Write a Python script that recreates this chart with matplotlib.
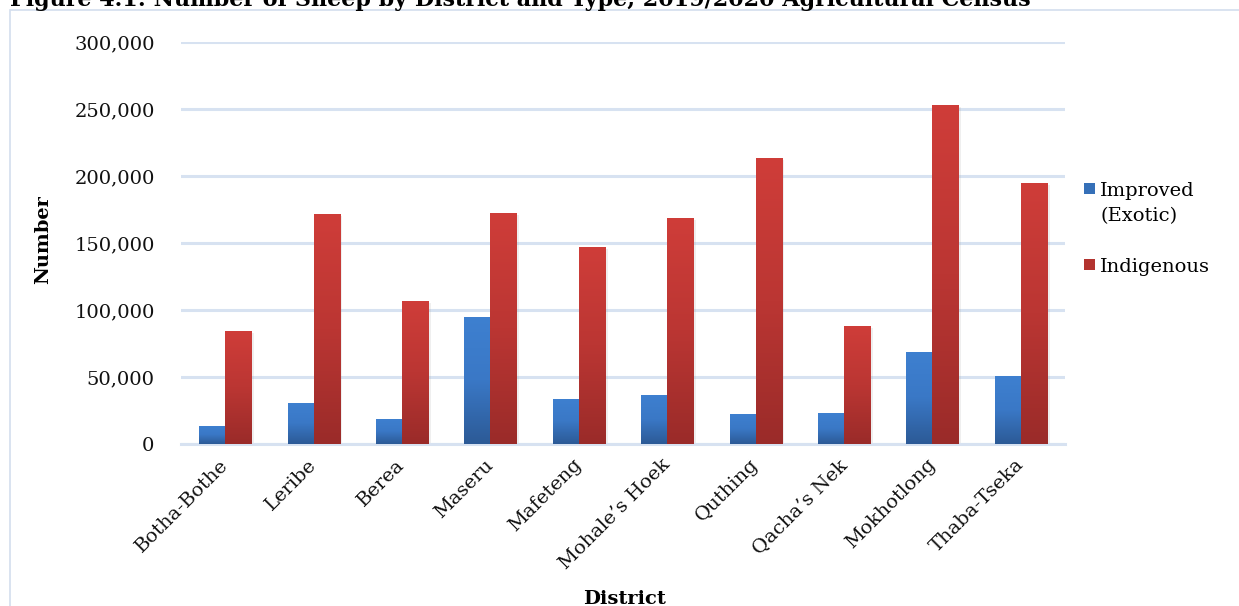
import numpy as np
import matplotlib
matplotlib.use("Agg")
import matplotlib.pyplot as plt
from matplotlib.colors import LinearSegmentedColormap
from matplotlib.patches import Rectangle
from matplotlib.ticker import FuncFormatter
import matplotlib.patheffects as pe

# Sheep counts by district and type
districts = ["Botha-Bothe", "Leribe", "Berea", "Maseru", "Mafeteng",
             "Mohale\u2019s Hoek", "Quthing", "Qacha\u2019s Nek", "Mokhotlong", "Thaba-Tseka"]
improved = [13500, 30600, 18700, 94800, 33600, 36600, 22400, 23100, 68700, 50700]
indigenous = [84300, 171600, 106700, 172400, 147000, 168700, 213400, 88000, 253000, 194800]
series_names = ["Improved\n(Exotic)", "Indigenous"]
y_ticks = [0, 50000, 100000, 150000, 200000, 250000, 300000]

SERIF = ["DejaVu Serif"]
plt.rcParams["font.family"] = SERIF

W, H = 1239, 606
fig = plt.figure(figsize=(W / 100, H / 100), dpi=100)

# outer frame of the figure box
fig.patches.append(Rectangle((10 / W, -0.1), 1.2, 1 - 10 / H + 0.1,
                             transform=fig.transFigure, fill=False,
                             edgecolor="#d3deee", linewidth=1.2))

ax = fig.add_axes([181 / W, 1 - 444 / H, 884 / W, 402 / H])

blue_cmap = LinearSegmentedColormap.from_list("blue", ["#2c5a96", "#3a78c6", "#3e80d0"])
red_cmap = LinearSegmentedColormap.from_list("red", ["#9a2b29", "#bb3633", "#cf3d39"])

x = np.arange(len(districts))
bw = 0.295
shadow = [pe.SimplePatchShadow(offset=(2.0, -1.5), shadow_rgbFace="#999999", alpha=0.15),
          pe.Normal()]
bars_imp = ax.bar(x - bw / 2, improved, bw, facecolor="none", edgecolor="none",
                  zorder=2, path_effects=shadow)
bars_ind = ax.bar(x + bw / 2, indigenous, bw, facecolor="none", edgecolor="none",
                  zorder=2, path_effects=shadow)

grad = np.linspace(0, 1, 256).reshape(-1, 1)
for bars, cmap in ((bars_imp, blue_cmap), (bars_ind, red_cmap)):
    for p in bars:
        x0, w, h = p.get_x(), p.get_width(), p.get_height()
        im = ax.imshow(grad, extent=[x0, x0 + w, 0, h], origin="lower",
                       aspect="auto", cmap=cmap, zorder=3, interpolation="bilinear")
        im.set_clip_path(p)

ax.set_xlim(-0.5, len(districts) - 0.5)
ax.set_ylim(0, 300000)
ax.set_yticks(y_ticks)
ax.yaxis.set_major_formatter(FuncFormatter(lambda v, _: f"{int(v):,}"))
ax.set_xticks(x)
ax.set_xticklabels(districts, rotation=45, ha="right", va="center",
                   rotation_mode="anchor", family=SERIF)
for t in ax.get_yticklabels():
    t.set_family(SERIF)
ax.tick_params(axis="both", length=0, labelsize=14, colors="#111111")
ax.tick_params(axis="y", pad=19)
ax.tick_params(axis="x", pad=13)

ax.grid(axis="y", color="#d7e2f1", linewidth=2.2, zorder=0)
ax.set_axisbelow(True)
for s in ("top", "right", "left"):
    ax.spines[s].set_visible(False)
ax.spines["bottom"].set_color("#d7e2f1")
ax.spines["bottom"].set_linewidth(2.2)

fig.text(43 / W, 1 - 240 / H, "Number", rotation=90, ha="center", va="center",
         fontsize=14, fontweight="bold", family=SERIF)
fig.text(624 / W, 1 - 599 / H, "District", ha="center", va="center",
         fontsize=14, fontweight="bold", family=SERIF)
fig.text(520 / W, 1 - 6 / H,
         "Figure 4.1: Number of Sheep by District and Type, 2019/2020 Agricultural Census",
         ha="center", va="baseline", fontsize=16, fontweight="bold", family=SERIF)

# legend
leg_items = [(series_names[0], "#3570b8", 183), (series_names[1], "#b3332f", 259)]
for label, col, ytop in leg_items:
    fig.patches.append(Rectangle((1084 / W, 1 - (ytop + 11) / H), 11 / W, 11 / H,
                                 transform=fig.transFigure, facecolor=col,
                                 edgecolor="none"))
    for k, line in enumerate(label.split("\n")):
        fig.text(1100 / W, 1 - (ytop + 13 + 25 * k) / H, line, ha="left",
                 va="baseline", fontsize=14, family=SERIF)

fig.savefig("out.png", dpi=100)
